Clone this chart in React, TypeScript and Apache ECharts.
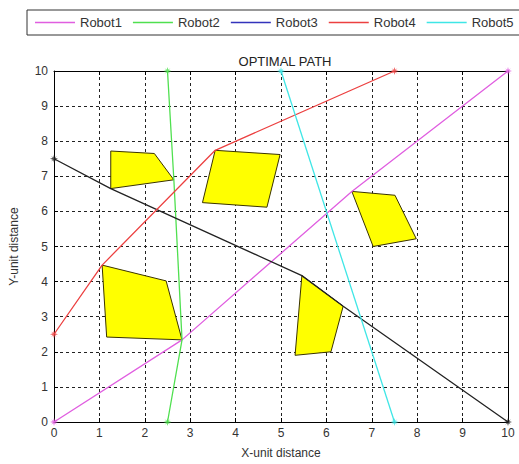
import React, { useEffect, useRef } from "react";
import * as echarts from "echarts";

const robotNames = ["Robot1", "Robot2", "Robot3", "Robot4", "Robot5"];
const lineColors = ["#e05ee0", "#4fe04f", "#222222", "#ec4040", "#3fe6e6"];
const legendColors = ["#e05ee0", "#4fe04f", "#3333bb", "#ec4040", "#3fe6e6"];

const robot1 = [[0, 0], [2.82, 2.34], [6.56, 6.57], [10, 10]];
const robot2 = [[2.5, 10], [2.64, 6.9], [2.82, 2.34], [2.5, 0]];
const robot3 = [[0, 7.5], [1.25, 6.65], [5.46, 4.17], [6.37, 3.3], [10, 0]];
const robot4 = [[0, 2.5], [1.06, 4.47], [3.55, 7.74], [7.5, 10]];
const robot5 = [[5, 10], [7.5, 0]];
const robotPaths = [robot1, robot2, robot3, robot4, robot5];

const obstacle1 = [[1.25, 7.72], [2.21, 7.65], [2.64, 6.9], [1.25, 6.65]];
const obstacle2 = [[3.55, 7.74], [4.98, 7.62], [4.69, 6.12], [3.27, 6.25]];
const obstacle3 = [[6.56, 6.57], [7.51, 6.46], [7.98, 5.22], [7.03, 5.0]];
const obstacle4 = [[1.06, 4.47], [2.47, 4.02], [2.82, 2.34], [1.16, 2.42]];
const obstacle5 = [[5.46, 4.17], [6.37, 3.3], [6.1, 2.0], [5.31, 1.9]];
const obstacles = [obstacle1, obstacle2, obstacle3, obstacle4, obstacle5];

const axisMin = 0;
const axisMax = 10;
const tickStep = 1;

const FONT = "Arial, 'Liberation Sans', sans-serif";
const STAR =
  "path://M0,-5 L1.1,-1.1 L5,0 L1.1,1.1 L0,5 L-1.1,1.1 L-5,0 L-1.1,-1.1 Z M-3.5,-3.5 L0,-0.8 L3.5,-3.5 L0.8,0 L3.5,3.5 L0,0.8 L-3.5,3.5 L-0.8,0 Z";

export default function App() {
  const ref = useRef<HTMLDivElement>(null);
  useEffect(() => {
    if (!ref.current) return;
    const chart = echarts.init(ref.current, null, { renderer: "svg" });

    const axisCommon = {
      type: "value" as const,
      min: axisMin,
      max: axisMax,
      interval: tickStep,
      axisLine: { show: true, onZero: false, lineStyle: { color: "#000", width: 1 } },
      axisTick: { show: true, inside: true, length: 4, lineStyle: { color: "#000" } },
    };

    const lineSeries = robotNames.map((name, i) => ({
      name,
      type: "line",
      data: robotPaths[i],
      showSymbol: false,
      symbol: "none",
      lineStyle: { color: lineColors[i], width: 1.3 },
      itemStyle: { color: lineColors[i] },
      z: 3,
    }));

    const endSeries = robotNames.map((name, i) => ({
      name: name + " ends",
      type: "scatter",
      data: [robotPaths[i][0], robotPaths[i][robotPaths[i].length - 1]],
      symbol: STAR,
      symbolSize: 8,
      itemStyle: { color: lineColors[i] },
      z: 4,
    }));

    const obstacleSeries = {
      name: "Obstacles",
      type: "custom",
      data: obstacles.map((_, i) => [i]),
      renderItem: (params: any, api: any) => {
        const poly = obstacles[params.dataIndex];
        return {
          type: "polygon",
          shape: { points: poly.map((p) => api.coord(p)) },
          style: { fill: "#ffff00", stroke: "#3a3300", lineWidth: 1 },
        };
      },
      z: 2,
    };

    chart.setOption({
      animation: false,
      title: {
        text: "OPTIMAL PATH",
        left: 280,
        top: 50,
        textAlign: "center",
        textStyle: { fontSize: 13, fontWeight: "normal", color: "#222", fontFamily: FONT },
      },
      legend: {
        data: robotNames.map((n, i) => ({
          name: n,
          itemStyle: { color: legendColors[i] },
        })),
        icon: "rect",
        itemWidth: 40,
        itemHeight: 1.5,
        itemGap: 11,
        left: 27,
        top: 10,
        width: 520,
        padding: [6, 8, 6, 8],
        borderColor: "#333",
        borderWidth: 1,
        textStyle: { fontSize: 13, color: "#333", fontFamily: FONT },
      },
      grid: { left: 53, top: 71, width: 455, height: 357, containLabel: false },
      xAxis: [
        {
          ...axisCommon,
          position: "bottom",
          axisLabel: { color: "#333", fontSize: 12, margin: 5, fontFamily: FONT },
          splitLine: { show: true, lineStyle: { color: "#222", type: [3, 3], width: 1 } },
          name: "X-unit distance",
          nameLocation: "middle",
          nameGap: 25,
          nameTextStyle: { fontSize: 12, color: "#333", fontFamily: FONT },
        },
        {
          ...axisCommon,
          position: "top",
          axisLabel: { show: false },
          splitLine: { show: false },
        },
      ],
      yAxis: [
        {
          ...axisCommon,
          position: "left",
          axisLabel: { color: "#333", fontSize: 12, margin: 6, fontFamily: FONT },
          splitLine: { show: true, lineStyle: { color: "#222", type: [3, 3], width: 1 } },
          name: "Y-unit distance",
          nameLocation: "middle",
          nameGap: 34,
          nameTextStyle: { fontSize: 12, color: "#333", fontFamily: FONT },
        },
        {
          ...axisCommon,
          position: "right",
          axisLabel: { show: false },
          splitLine: { show: false },
        },
      ],
      series: [obstacleSeries, ...lineSeries, ...endSeries],
    });
    return () => chart.dispose();
  }, []);

  return (
    <div
      ref={ref}
      style={{ position: "fixed", left: 0, top: 0, width: 519, height: 464, background: "#fff" }}
    />
  );
}
